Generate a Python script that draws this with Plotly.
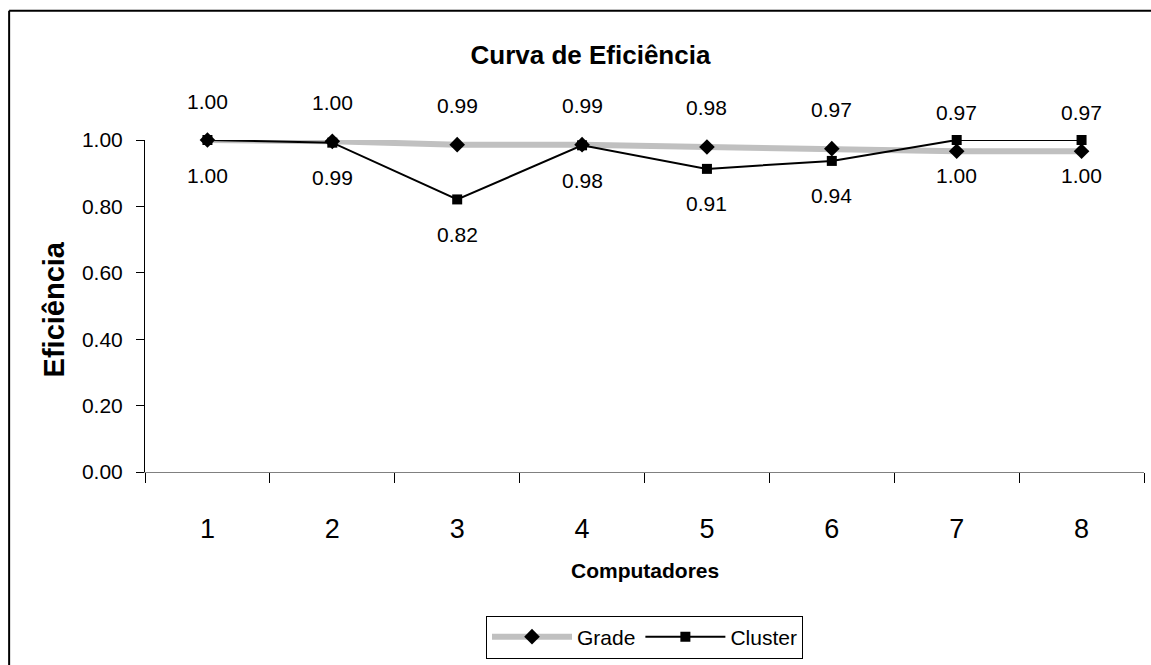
import plotly.graph_objects as go

# dados
computadores = ["1", "2", "3", "4", "5", "6", "7", "8"]
grade = [1.00, 0.996, 0.986, 0.986, 0.979, 0.974, 0.966, 0.966]
cluster = [1.00, 0.992, 0.821, 0.984, 0.913, 0.937, 1.00, 1.00]
y_ticks = [0.0, 0.2, 0.4, 0.6, 0.8, 1.0]

FONT = "Arial, Liberation Sans, sans-serif"

fig = go.Figure()

fig.add_trace(go.Scatter(
    x=computadores, y=grade, name="Grade", mode="lines+markers",
    line=dict(color="#C0C0C0", width=6),
    marker=dict(symbol="diamond", size=12, color="black"),
    cliponaxis=False,
))
fig.add_trace(go.Scatter(
    x=computadores, y=cluster, name="Cluster", mode="lines+markers",
    line=dict(color="black", width=2),
    marker=dict(symbol="square", size=10, color="black"),
    cliponaxis=False,
))

# rótulos de dados: Grade acima, Cluster abaixo (x = índice da categoria)
for i, (g, c) in enumerate(zip(grade, cluster)):
    fig.add_annotation(x=i, y=g, text=f"{g:.2f}", showarrow=False,
                       yshift=39, font=dict(size=21, color="black", family=FONT))
    fig.add_annotation(x=i, y=c, text=f"{c:.2f}", showarrow=False,
                       yshift=-35, font=dict(size=21, color="black", family=FONT))

# títulos dos eixos
fig.add_annotation(xref="paper", yref="paper", x=-0.109, y=0.49,
                   text="<b>Eficiência</b>", textangle=-90, showarrow=False,
                   font=dict(size=29, color="black", family=FONT))
fig.add_annotation(xref="paper", yref="paper", x=0.5, y=-0.338,
                   text="<b>Computadores</b>", showarrow=False,
                   font=dict(size=21, color="black", family=FONT))

# moldura do gráfico: só as bordas esquerda e superior aparecem na imagem
fig.add_shape(type="line", xref="paper", yref="paper",
              x0=-0.136, y0=-0.8, x1=-0.136, y1=1.389,
              line=dict(color="black", width=2))
fig.add_shape(type="line", xref="paper", yref="paper",
              x0=-0.136, y0=1.389, x1=1.2, y1=1.389,
              line=dict(color="black", width=2))

fig.update_layout(
    width=1151, height=665,
    margin=dict(l=145, r=7, t=140, b=191),
    paper_bgcolor="white", plot_bgcolor="white",
    font=dict(family=FONT, color="black"),
    title=dict(text="<b>Curva de Eficiência</b>", x=0.513, xanchor="center",
               y=1 - 55 / 665, yanchor="middle", yref="container",
               font=dict(size=26, color="black", family=FONT)),
    showlegend=True,
    legend=dict(orientation="h", x=0.5, xanchor="center", y=-0.497, yanchor="middle",
                bordercolor="black", borderwidth=1, bgcolor="white", itemwidth=80,
                font=dict(size=21, color="black", family=FONT)),
    xaxis=dict(type="category", tickson="boundaries", range=[-0.5, 7.5],
               ticks="outside", ticklen=10,
               tickcolor="black", showline=True, linecolor="#808080", linewidth=1,
               showgrid=False, zeroline=False, ticklabelstandoff=33,
               tickfont=dict(size=27, color="black", family=FONT)),
    yaxis=dict(range=[0, 1], tickvals=y_ticks, tickformat=".2f", ticks="outside",
               ticklen=8, tickcolor="black", showline=True, linecolor="black",
               linewidth=1, showgrid=False, zeroline=False, ticklabelstandoff=9,
               tickfont=dict(size=21, color="black", family=FONT)),
)

# sem margem na página, para a figura ocupar a janela inteira
fig.write_html("out.html", config={"displayModeBar": False},
               post_script="document.body.style.margin = '0';")
